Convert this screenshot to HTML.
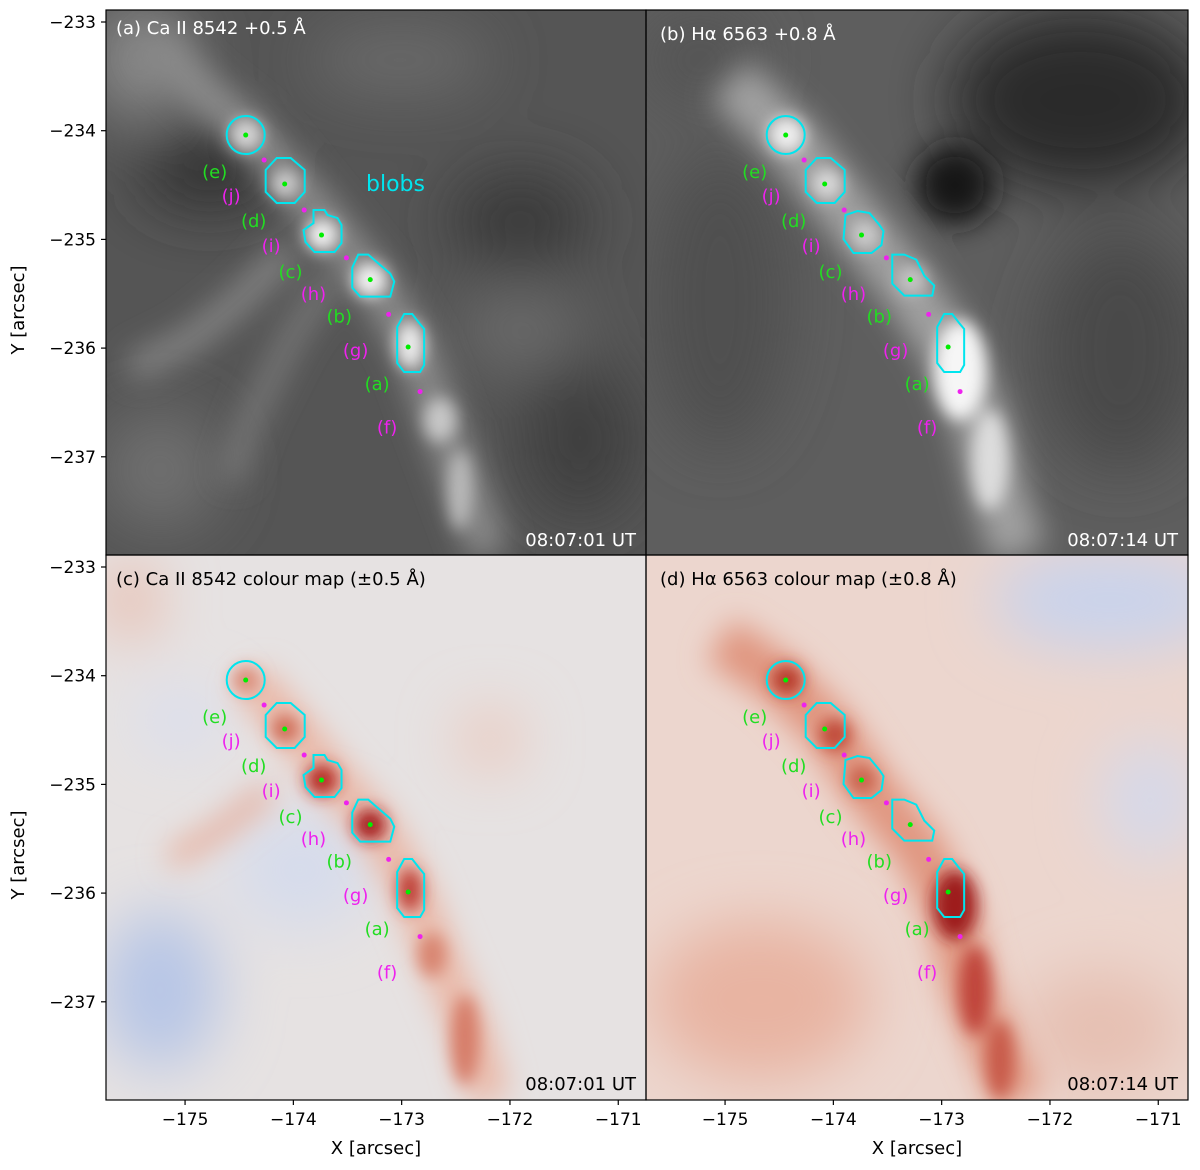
<!DOCTYPE html>
<html><head><meta charset="utf-8"><style>
body{margin:0;background:#fff}
svg{display:block;font-family:"DejaVu Sans","Liberation Sans",sans-serif}
</style></head><body>
<svg id="fig" width="1200" height="1170" viewBox="0 0 1200 1170" xmlns="http://www.w3.org/2000/svg">
<defs>
<filter id="b8" x="-50%" y="-50%" width="200%" height="200%"><feGaussianBlur stdDeviation="8"/></filter>
<filter id="b15" x="-50%" y="-50%" width="200%" height="200%"><feGaussianBlur stdDeviation="15"/></filter>
<filter id="b30" x="-50%" y="-50%" width="200%" height="200%"><feGaussianBlur stdDeviation="30"/></filter>
<clipPath id="cA"><rect x="106" y="10" width="540" height="545"/></clipPath>
<clipPath id="cB"><rect x="646" y="10" width="542" height="545"/></clipPath>
<clipPath id="cC"><rect x="106" y="555" width="540" height="545"/></clipPath>
<clipPath id="cD"><rect x="646" y="555" width="542" height="545"/></clipPath>
</defs>

<g clip-path="url(#cA)">
<rect x="106" y="10" width="540" height="545" fill="#555"/>
<g filter="url(#b30)">
<ellipse cx="210" cy="170" rx="70" ry="40" fill="#333"/>
<ellipse cx="520" cy="220" rx="70" ry="50" fill="#3a3a3a"/>
<ellipse cx="580" cy="440" rx="60" ry="80" fill="#404040"/>
<ellipse cx="140" cy="60" rx="50" ry="60" fill="#8a8a8a"/>
<ellipse cx="160" cy="470" rx="60" ry="60" fill="#707070"/>
<ellipse cx="400" cy="60" rx="90" ry="35" fill="#6a6a6a"/>
<ellipse cx="520" cy="330" rx="60" ry="40" fill="#6a6a6a"/>
</g>
<g filter="url(#b15)">
<polyline points="150,40 200,90 250,130 300,190 340,240 380,290 415,350 440,420 470,500 490,555" fill="none" stroke="#8a8a8a" stroke-width="40"/>
<polyline points="290,250 240,300 190,340 130,370" fill="none" stroke="#858585" stroke-width="26"/>
<polyline points="330,280 290,340 250,420 230,480" fill="none" stroke="#7a7a7a" stroke-width="22"/>
</g>
<g filter="url(#b8)">
<circle cx="246" cy="135" r="16" fill="#d8d8d8"/>
<circle cx="285" cy="184" r="14" fill="#d0d0d0"/>
<circle cx="322" cy="235" r="16" fill="#f4f4f4"/>
<circle cx="370" cy="280" r="17" fill="#f4f4f4"/>
<ellipse cx="410" cy="345" rx="14" ry="24" fill="#eeeeee"/>
<ellipse cx="440" cy="420" rx="16" ry="22" fill="#c8c8c8"/>
<ellipse cx="460" cy="490" rx="12" ry="40" fill="#bbbbbb"/>
</g>
</g>

<g clip-path="url(#cB)">
<rect x="646" y="10" width="542" height="545" fill="#5e5e5e"/>
<g filter="url(#b30)">
<ellipse cx="1080" cy="100" rx="130" ry="90" fill="#2c2c2c"/>
<ellipse cx="1120" cy="350" rx="80" ry="120" fill="#4a4a4a"/>
<ellipse cx="720" cy="300" rx="70" ry="150" fill="#505050"/>
<ellipse cx="700" cy="60" rx="60" ry="50" fill="#555"/>
</g>
<g filter="url(#b15)">
<circle cx="955" cy="185" r="40" fill="#141414"/>
<polyline points="730,80 790,140 830,190 870,240 910,290 950,350 980,420 1000,500 1020,555" fill="none" stroke="#a0a0a0" stroke-width="55"/>
</g>
<g filter="url(#b8)">
<circle cx="787" cy="135" r="18" fill="#f0f0f0"/>
<circle cx="827" cy="184" r="15" fill="#dcdcdc"/>
<circle cx="865" cy="235" r="14" fill="#cfcfcf"/>
<circle cx="912" cy="280" r="14" fill="#c8c8c8"/>
<ellipse cx="960" cy="370" rx="26" ry="50" fill="#f6f6f6"/>
<ellipse cx="990" cy="460" rx="18" ry="50" fill="#dddddd"/>
</g>
</g>

<g clip-path="url(#cC)">
<rect x="106" y="555" width="540" height="545" fill="#e6e2e2"/>
<g filter="url(#b30)">
<ellipse cx="160" cy="990" rx="60" ry="80" fill="#b7c6e6"/>
<ellipse cx="300" cy="870" rx="70" ry="60" fill="#d6dcec"/>
<ellipse cx="180" cy="720" rx="40" ry="30" fill="#d8def0"/>
<ellipse cx="490" cy="740" rx="30" ry="30" fill="#ecc4b6"/>
<ellipse cx="130" cy="600" rx="25" ry="40" fill="#e9b6a4"/>
</g>
<g filter="url(#b15)">
<polyline points="250,680 290,725 330,775 375,825 410,885 440,960 470,1030 490,1100" fill="none" stroke="#eab7a6" stroke-width="40"/>
<polyline points="270,790 220,830 170,860" fill="none" stroke="#e6ae9c" stroke-width="20"/>
</g>
<g filter="url(#b8)">
<circle cx="246" cy="680" r="14" fill="#dc8a76"/>
<circle cx="285" cy="729" r="14" fill="#cf6b55"/>
<circle cx="322" cy="780" r="16" fill="#b52a24"/>
<circle cx="370" cy="825" r="16" fill="#a51f1f"/>
<ellipse cx="410" cy="890" rx="12" ry="22" fill="#bd3a30"/>
<ellipse cx="432" cy="955" rx="14" ry="22" fill="#d88470"/>
<ellipse cx="465" cy="1040" rx="14" ry="45" fill="#d67c68"/>
</g>
</g>

<g clip-path="url(#cD)">
<rect x="646" y="555" width="542" height="545" fill="#ecd6ce"/>
<g filter="url(#b30)">
<ellipse cx="1110" cy="600" rx="120" ry="50" fill="#c9d3ec"/>
<ellipse cx="1150" cy="800" rx="50" ry="60" fill="#d5d9ea"/>
<ellipse cx="760" cy="1000" rx="110" ry="80" fill="#e8b4a2"/>
<ellipse cx="1100" cy="1030" rx="80" ry="60" fill="#e6c0b2"/>
</g>
<g filter="url(#b15)">
<polyline points="720,640 780,680 830,730 870,790 920,850 950,910 970,990 1000,1060 1020,1100" fill="none" stroke="#e0957f" stroke-width="50"/>
</g>
<g filter="url(#b8)">
<circle cx="787" cy="680" r="16" fill="#b83a2c"/>
<circle cx="835" cy="735" r="16" fill="#c04a38"/>
<circle cx="862" cy="780" r="14" fill="#c85e48"/>
<ellipse cx="955" cy="905" rx="22" ry="35" fill="#9e1a1e"/>
<ellipse cx="975" cy="990" rx="16" ry="45" fill="#c0443a"/>
<ellipse cx="1000" cy="1060" rx="14" ry="40" fill="#c85a48"/>
</g>
</g>

<g id="overlays"></g>
<g id="axes"></g>

<g fill="none" stroke="#000" stroke-width="1.2">
<rect x="106" y="10" width="540" height="545"/>
<rect x="646" y="10" width="542" height="545"/>
<rect x="106" y="555" width="540" height="545"/>
<rect x="646" y="555" width="542" height="545"/>
</g>

<g font-size="18">
<text x="116" y="34" fill="#fff">(a) Ca II 8542 +0.5 Å</text>
<text x="660" y="40" fill="#fff">(b) Hα 6563 +0.8 Å</text>
<text x="116" y="585" fill="#000">(c) Ca II 8542 colour map (±0.5 Å)</text>
<text x="660" y="585" fill="#000">(d) Hα 6563 colour map (±0.8 Å)</text>
<text x="636" y="546" fill="#fff" text-anchor="end">08:07:01 UT</text>
<text x="1178" y="546" fill="#fff" text-anchor="end">08:07:14 UT</text>
<text x="636" y="1090" fill="#000" text-anchor="end">08:07:01 UT</text>
<text x="1178" y="1090" fill="#000" text-anchor="end">08:07:14 UT</text>
<text x="366" y="191" fill="#00e5ee" font-size="22">blobs</text>
<text x="24" y="310" transform="rotate(-90 24 310)" text-anchor="middle">Y [arcsec]</text>
<text x="24" y="855" transform="rotate(-90 24 855)" text-anchor="middle">Y [arcsec]</text>
<text x="376" y="1154" text-anchor="middle">X [arcsec]</text>
<text x="917" y="1154" text-anchor="middle">X [arcsec]</text>
</g>
</svg>
<script>
const blobX = [-172.94, -173.29, -173.74, -174.08, -174.44];
const blobY = [-235.99, -235.37, -234.96, -234.49, -234.04];
const blobNames = ['(a)', '(b)', '(c)', '(d)', '(e)'];
const midX = [-172.83, -173.12, -173.51, -173.90, -174.27];
const midY = [-236.40, -235.69, -235.17, -234.73, -234.27];
const midNames = ['(f)', '(g)', '(h)', '(i)', '(j)'];
const xTicks = [-175, -174, -173, -172, -171];
const yTicks = [-233, -234, -235, -236, -237];

const NS = 'http://www.w3.org/2000/svg';
const PX = 108.3, PY = 108.7;
const panels = [
  {id:'a', x0:106, y0:10, left:true, bottom:false, ha:false},
  {id:'b', x0:646, y0:10, left:false, bottom:false, ha:true},
  {id:'c', x0:106, y0:555, left:true, bottom:true, ha:false},
  {id:'d', x0:646, y0:555, left:false, bottom:true, ha:true}
];
function sx(p, v){ return p.x0 + (v + 175.73) * PX; }
function sy(p, v){ return p.y0 + 12 + (-233 - v) * PY; }
function mk(tag, attrs, parent){
  const e = document.createElementNS(NS, tag);
  for (const k in attrs) e.setAttribute(k, attrs[k]);
  parent.appendChild(e); return e;
}
const caShapes = [
  [[-4,-33],[4,-33],[11,-24],[16,-18],[16,18],[12,25],[-4,25],[-11,16],[-11,-20]],
  [[-12,-25],[-2,-25],[6,-18],[20,-6],[24,2],[20,17],[-10,17],[-18,8],[-18,-12]],
  [[-8,-25],[3,-25],[6,-20],[16,-17],[20,-10],[20,8],[13,17],[-7,17],[-16,7],[-18,-5],[-8,-12]],
  [[-8,-26],[6,-26],[20,-14],[20,8],[10,19],[-8,19],[-19,8],[-19,-14]],
  'circle'
];
const haShapes = [
  [[-4,-33],[4,-33],[11,-24],[16,-18],[16,18],[12,25],[-4,25],[-11,16],[-11,-20]],
  [[-18,-25],[-6,-25],[6,-20],[14,-4],[24,6],[22,16],[-6,16],[-18,4]],
  [[-16,-20],[-4,-24],[8,-22],[18,-10],[22,-4],[20,10],[10,18],[-8,18],[-18,4]],
  [[-8,-26],[6,-26],[20,-14],[20,8],[10,19],[-8,19],[-19,8],[-19,-14]],
  'circle'
];
const ov = document.getElementById('overlays');
const ax = document.getElementById('axes');
panels.forEach(p => {
  const g = mk('g', {'clip-path':'url(#c'+p.id.toUpperCase()+')'}, ov);
  
  
  const shapes = p.ha ? haShapes : caShapes;
  blobX.forEach((bx, i) => {
    const cx = sx(p, bx), cy = sy(p, blobY[i]);
    const s = shapes[i];
    let c;
    if (s === 'circle') c = mk('circle', {cx:cx, cy:cy, r:19, fill:'none', stroke:'#00e5ee', 'stroke-width':2}, g);
    else c = mk('polygon', {points:s.map(q => (cx+q[0])+','+(cy+q[1])).join(' '), fill:'none', stroke:'#00e5ee', 'stroke-width':2}, g);
    
    
    const d = mk('circle', {cx:cx, cy:cy, r:2.5, fill:'#00ee00'}, g);
    
    
    const t = mk('text', {x:cx - 31, y:cy + 43, fill:'#22dd22', 'font-size':18, 'text-anchor':'middle'}, g);
    t.textContent = blobNames[i];
    
    
  });
  midX.forEach((mx, i) => {
    const cx = sx(p, mx), cy = sy(p, midY[i]);
    const d = mk('circle', {cx:cx, cy:cy, r:2.5, fill:'#ee22ee'}, g);
    
    
    const t = mk('text', {x:cx - 33, y:cy + 42, fill:'#ee22ee', 'font-size':18, 'text-anchor':'middle'}, g);
    t.textContent = midNames[i];
    
    
  });
  if (p.left) {
    yTicks.forEach(v => {
      const y = sy(p, v);
      const l = mk('line', {x1:p.x0-5, x2:p.x0, y1:y, y2:y, stroke:'#000', 'stroke-width':1.2}, ax);
      
      
      const t = mk('text', {x:p.x0-10, y:y+6, 'font-size':17, 'text-anchor':'end'}, ax);
      t.textContent = '\u2212' + Math.abs(v);
      
      
    });
  }
  if (p.bottom) {
    xTicks.forEach(v => {
      const x = sx(p, v);
      const l = mk('line', {x1:x, x2:x, y1:1100, y2:1105, stroke:'#000', 'stroke-width':1.2}, ax);
      
      
      const t = mk('text', {x:x, y:1125, 'font-size':17, 'text-anchor':'middle'}, ax);
      t.textContent = '\u2212' + Math.abs(v);
      
      
    });
  }
});
</script>
</body></html>
